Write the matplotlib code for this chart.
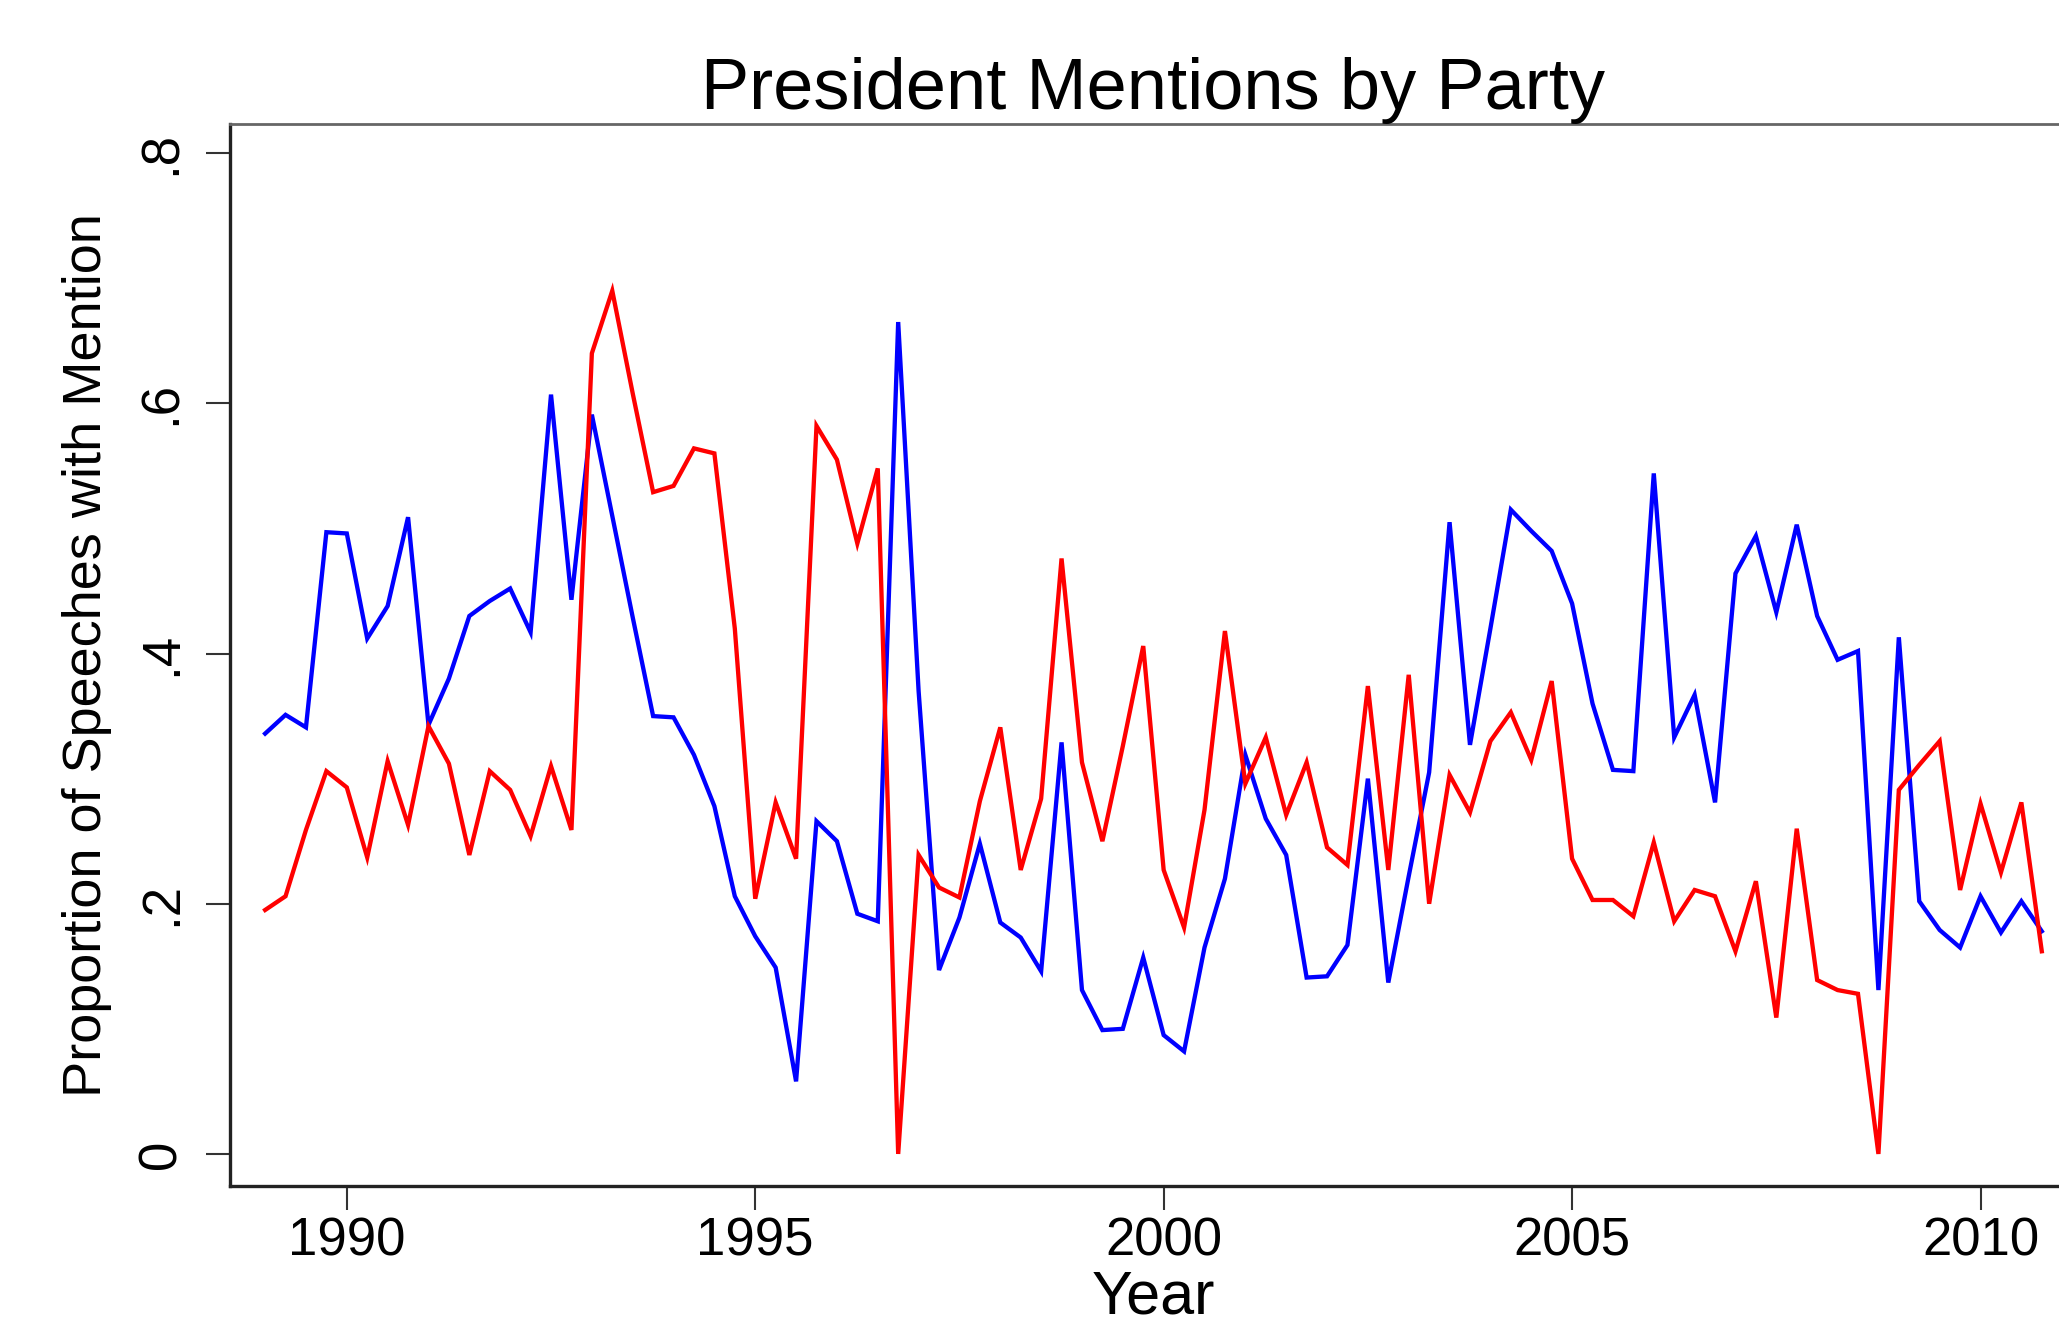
import pandas as pd
import matplotlib
matplotlib.use("Agg")
import matplotlib.pyplot as plt

# Quarterly series, 1989Q1 - 2010Q4
quarters = pd.period_range("1989Q1", "2010Q4", freq="Q")
years = quarters.year + (quarters.quarter - 1) / 4.0

# Proportion of speeches with a president mention
blue_vals = [0.336, 0.351, 0.341, 0.497, 0.496, 0.412, 0.438, 0.509, 0.343, 0.380,
             0.430, 0.442, 0.452, 0.417, 0.607, 0.443, 0.591, 0.510, 0.429, 0.350,
             0.349, 0.319, 0.278, 0.206, 0.174, 0.149, 0.058, 0.266, 0.250, 0.192,
             0.186, 0.665, 0.370, 0.147, 0.189, 0.248, 0.185, 0.173, 0.146, 0.329,
             0.131, 0.099, 0.100, 0.157, 0.095, 0.082, 0.165, 0.220, 0.319, 0.268,
             0.239, 0.141, 0.142, 0.167, 0.300, 0.137, 0.222, 0.305, 0.505, 0.327,
             0.420, 0.515, 0.498, 0.482, 0.440, 0.360, 0.307, 0.306, 0.544, 0.333,
             0.367, 0.281, 0.464, 0.494, 0.433, 0.503, 0.430, 0.395, 0.402, 0.131,
             0.413, 0.202, 0.179, 0.165, 0.206, 0.177, 0.202, 0.178]
red_vals = [0.195, 0.206, 0.259, 0.306, 0.293, 0.237, 0.314, 0.263, 0.342, 0.312,
            0.239, 0.306, 0.291, 0.254, 0.310, 0.259, 0.640, 0.690, 0.608, 0.529,
            0.534, 0.564, 0.560, 0.420, 0.204, 0.281, 0.236, 0.582, 0.555, 0.488,
            0.548, 0.000, 0.239, 0.213, 0.205, 0.282, 0.341, 0.227, 0.284, 0.476,
            0.313, 0.250, 0.326, 0.406, 0.227, 0.181, 0.275, 0.418, 0.296, 0.333,
            0.271, 0.313, 0.245, 0.231, 0.374, 0.227, 0.383, 0.200, 0.303, 0.273,
            0.330, 0.353, 0.315, 0.378, 0.236, 0.203, 0.203, 0.190, 0.249, 0.186,
            0.211, 0.206, 0.162, 0.218, 0.109, 0.260, 0.139, 0.131, 0.128, 0.000,
            0.291, 0.311, 0.330, 0.211, 0.280, 0.225, 0.281, 0.162]

x_ticks = [1990, 1995, 2000, 2005, 2010]
y_ticks = [0, 0.2, 0.4, 0.6, 0.8]
y_tick_labels = ["0", ".2", ".4", ".6", ".8"]

plt.rcParams["font.family"] = ["Liberation Sans", "DejaVu Sans"]

fig = plt.figure(figsize=(20.59, 13.22), dpi=100)
# axes runs a little past the right edge, like the cropped original
ax = fig.add_axes([0.1117, 0.1029, 0.897, 0.8033])

ax.plot(years, blue_vals, color="#0000ff", lw=3.1, solid_joinstyle="miter")
ax.plot(years, red_vals, color="#ff0000", lw=3.1, solid_joinstyle="miter")

ax.set_xlim(1988.57, 2011.18)
ax.set_ylim(-0.0256, 0.8233)

ax.set_xticks(x_ticks)
ax.set_xticklabels([str(y) for y in x_ticks], fontsize=38)
ax.set_yticks(y_ticks)
ax.set_yticklabels(y_tick_labels, fontsize=38, rotation=90, va="center")

ax.tick_params(axis="both", direction="out", length=17, width=1.5, color="#333333")
ax.tick_params(axis="x", pad=5)
ax.tick_params(axis="y", pad=14)

for side in ["left", "bottom"]:
    ax.spines[side].set_color("#222222")
    ax.spines[side].set_linewidth(2.4)
ax.spines["top"].set_color("#666666")
ax.spines["top"].set_linewidth(2.0)
ax.spines["right"].set_color("#666666")

ax.set_title("President Mentions by Party", fontsize=52, pad=6)
ax.set_xlabel("Year", fontsize=44, labelpad=2)
ax.set_ylabel("Proportion of Speeches with Mention", fontsize=39, labelpad=18)

fig.savefig("out.png", dpi=100)
